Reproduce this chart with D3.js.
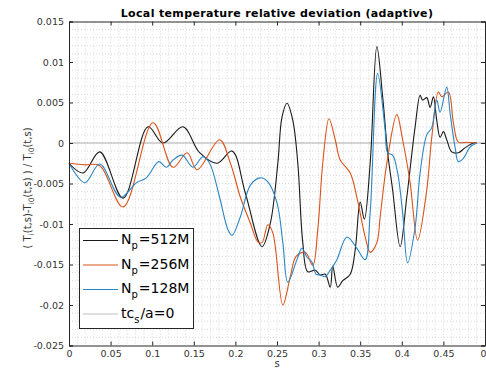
<!DOCTYPE html>
<html>
<head>
<meta charset="utf-8">
<script src="https://cdn.jsdelivr.net/npm/d3@7"></script>
<style>
  body { margin: 0; background: #fff; }
  svg { display: block; font-family: 'DejaVu Sans', sans-serif; }
</style>
</head>
<body>
<div id="chart"></div>
<script>
// black, N_p = 512M
const s512 = [0, 0.017, 0.037, 0.065, 0.095, 0.113, 0.137, 0.157, 0.178, 0.196, 0.212, 0.232, 0.242, 0.251, 0.256, 0.262,
  0.269, 0.275, 0.281, 0.287, 0.296, 0.302, 0.308, 0.314, 0.317, 0.323, 0.329, 0.338, 0.344, 0.350, 0.355, 0.362, 0.370,
  0.377, 0.383, 0.389, 0.398, 0.406, 0.416, 0.422, 0.425, 0.430, 0.434, 0.438, 0.442, 0.446, 0.450, 0.454, 0.460, 0.468,
  0.476, 0.486, 0.490];
const v512 = [-0.0025, -0.0037, -0.0011, -0.0068, 0.0020, 0.0000, 0.0020, -0.0012, -0.0025, -0.0010, -0.0062, -0.0128, -0.0099, -0.0025, 0.0032, 0.0049,
  0.0028, -0.0025, -0.0123, -0.0159, -0.0157, -0.0163, -0.0162, -0.0178, -0.0152, -0.0178, -0.0170, -0.0162, -0.0132, -0.0073, -0.0094, -0.0025, 0.0119,
  0.0057, -0.0012, -0.0058, -0.0128, -0.0067, 0.0020, 0.0059, 0.0053, 0.0056, 0.0044, 0.0057, 0.0028, 0.0007, 0.0014, 0.0004, -0.0011, -0.0012,
  -0.0006, 0.0000, 0.0000];

// orange, N_p = 256M
const s256 = [0, 0.019, 0.037, 0.065, 0.101, 0.125, 0.142, 0.154, 0.181, 0.194, 0.206, 0.218, 0.227, 0.232, 0.239, 0.245,
  0.257, 0.266, 0.273, 0.284, 0.293, 0.299, 0.305, 0.3125, 0.320, 0.326, 0.338, 0.346, 0.356, 0.362, 0.370, 0.374, 0.382,
  0.394, 0.401, 0.410, 0.419, 0.430, 0.436, 0.444, 0.448, 0.456, 0.462, 0.468, 0.478, 0.490];
const v256 = [-0.0025, -0.0027, -0.0028, -0.0079, 0.0025, -0.0030, -0.0012, -0.0033, 0.0004, -0.0025, -0.0067, -0.0099, -0.0122, -0.0123, -0.0101, -0.0111,
  -0.0200, -0.0165, -0.0140, -0.0135, -0.0151, -0.0107, -0.0025, 0.0030, 0.0004, -0.0021, -0.0037, -0.0067, -0.0116, -0.0135, -0.0123, -0.0091, -0.0025,
  0.0035, 0.0004, -0.0049, -0.0120, -0.0058, 0.0007, 0.0063, 0.0057, 0.0063, 0.0025, 0.0001, 0.0001, 0.0000];

// blue, N_p = 128M
const s128 = [0, 0.019, 0.037, 0.062, 0.081, 0.093, 0.108, 0.117, 0.125, 0.136, 0.149, 0.161, 0.169, 0.181, 0.191, 0.196,
  0.206, 0.218, 0.230, 0.239, 0.250, 0.257, 0.263, 0.274, 0.280, 0.286, 0.292, 0.297, 0.302, 0.308, 0.314, 0.322, 0.334,
  0.346, 0.356, 0.362, 0.371, 0.380, 0.383, 0.389, 0.395, 0.401, 0.407, 0.416, 0.422, 0.430, 0.436, 0.442, 0.446, 0.454,
  0.458, 0.464, 0.468, 0.474, 0.482, 0.490];
const v128 = [-0.0025, -0.0049, -0.0026, -0.0067, -0.0049, -0.0043, -0.0023, -0.0030, -0.0021, -0.0015, -0.0030, -0.0017, -0.0025, -0.0067, -0.0107, -0.0114,
  -0.0091, -0.0052, -0.0043, -0.0048, -0.0074, -0.0123, -0.0172, -0.0144, -0.0130, -0.0141, -0.0147, -0.0162, -0.0163, -0.0165, -0.0157, -0.0144, -0.0116,
  -0.0130, -0.0144, -0.0086, 0.0086, 0.0016, -0.0012, -0.0015, -0.0037, -0.0086, -0.0148, -0.0104, -0.0037, 0.0010, 0.0019, 0.0053, 0.0038, 0.0069,
  0.0037, -0.0005, -0.0023, -0.0019, -0.0005, 0.0000];

const xTicks = [0, 0.05, 0.1, 0.15, 0.2, 0.25, 0.3, 0.35, 0.4, 0.45, 0.5];
const xTickLabels = ['0', '0.05', '0.1', '0.15', '0.2', '0.25', '0.3', '0.35', '0.4', '0.45', '0'];
const yTicks = [-0.025, -0.02, -0.015, -0.01, -0.005, 0, 0.005, 0.01, 0.015];
const yTickLabels = ['-0.025', '-0.02', '-0.015', '-0.01', '-0.005', '0', '0.005', '0.01', '0.015'];

const series = [
  {name: '512M', s: s512, v: v512, color: '#1a1a1a'},
  {name: '256M', s: s256, v: v256, color: '#D95319'},
  {name: '128M', s: s128, v: v128, color: '#2a86c4'}
];

const W = 486, H = 368;
const margin = {top: 21.5, right: 1, bottom: 22.5, left: 69};
const width = W - margin.left - margin.right;
const height = H - margin.top - margin.bottom;

const x = d3.scaleLinear().domain([0, 0.5]).range([0, width]);
const y = d3.scaleLinear().domain([-0.025, 0.015]).range([height, 0]);

const svg = d3.select('#chart').append('svg')
    .attr('width', W)
    .attr('height', H);

const chart = svg.append('g')
    .attr('transform', `translate(${margin.left},${margin.top})`);

chart.append('rect')
    .attr('width', width)
    .attr('height', height)
    .attr('fill', '#fff');

// minor grid, dotted
const grid = chart.append('g').attr('stroke', '#cfcfcf').attr('stroke-width', 0.8).attr('stroke-dasharray', '1,2');
grid.selectAll('.gx')
    .data(d3.range(1, 50).map(i => i / 100))
    .enter().append('line')
    .attr('x1', d => x(d)).attr('x2', d => x(d))
    .attr('y1', 0).attr('y2', height);
grid.selectAll('.gy')
    .data(d3.range(-24, 15).map(i => i / 1000))
    .enter().append('line')
    .attr('y1', d => y(d)).attr('y2', d => y(d))
    .attr('x1', 0).attr('x2', width);

// tc_s/a = 0 reference line
chart.append('line')
    .attr('x1', 0).attr('x2', width)
    .attr('y1', y(0)).attr('y2', y(0))
    .attr('stroke', '#b0b0b0')
    .attr('stroke-width', 1.2);

const line = d3.line()
    .x(d => x(d[0]))
    .y(d => y(d[1]))
    .curve(d3.curveCatmullRom.alpha(0.5));

chart.selectAll('.series')
    .data(series)
    .enter().append('path')
    .attr('d', d => line(d.s.map((s, i) => [s, d.v[i]])))
    .attr('fill', 'none')
    .attr('stroke', d => d.color)
    .attr('stroke-width', 1.1);

// axes: ticks inside on all four sides
const axisColor = '#262626';
const tickLen = 4;
const axBottom = chart.append('g').attr('transform', `translate(0,${height})`)
    .call(d3.axisBottom(x).tickValues(xTicks).tickSize(-tickLen).tickPadding(6)
        .tickFormat((d, i) => xTickLabels[i]));
const axTop = chart.append('g')
    .call(d3.axisTop(x).tickValues(xTicks).tickSize(-tickLen).tickFormat(''));
const axLeft = chart.append('g')
    .call(d3.axisLeft(y).tickValues(yTicks).tickSize(-tickLen).tickPadding(5)
        .tickFormat((d, i) => yTickLabels[i]));
const axRight = chart.append('g').attr('transform', `translate(${width},0)`)
    .call(d3.axisRight(y).tickValues(yTicks).tickSize(-tickLen).tickFormat(''));

[axBottom, axTop, axLeft, axRight].forEach(a => {
  a.select('.domain').attr('stroke', axisColor);
  a.selectAll('.tick line').attr('stroke', axisColor);
  a.selectAll('.tick text').attr('fill', '#333').attr('font-size', '9.5px')
      .attr('font-family', 'DejaVu Sans');
});
axBottom.selectAll('.tick text').attr('dy', '0.6em');
// last label sits on the window edge, keep it inside
axBottom.selectAll('.tick text').filter((d, i) => i === xTicks.length - 1)
    .attr('text-anchor', 'end').attr('dx', 1);

// title
svg.append('text')
    .attr('x', margin.left + width / 2)
    .attr('y', 17)
    .attr('text-anchor', 'middle')
    .attr('font-size', '11px')
    .attr('font-weight', 'bold')
    .attr('letter-spacing', '0.35px')
    .attr('fill', '#000')
    .text('Local temperature relative deviation (adaptive)');

// x label
svg.append('text')
    .attr('x', margin.left + width / 2)
    .attr('y', 367)
    .attr('text-anchor', 'middle')
    .attr('font-size', '10px')
    .attr('fill', '#333')
    .text('s');

// y label with subscripts
const yl = svg.append('text')
    .attr('transform', 'translate(31,188) rotate(-90)')
    .attr('text-anchor', 'middle')
    .attr('font-size', '10px')
    .attr('fill', '#333');
const ylParts = [['( T', 0], ['i', 1], ['(t,s)-T', 0], ['i0', 1], ['(t,s) ) / T', 0], ['i0', 1], ['(t,s)', 0]];
let prevSub = 0;
ylParts.forEach(p => {
  const shift = (p[1] - prevSub) * 3;
  yl.append('tspan')
      .attr('dy', shift)
      .attr('font-size', p[1] ? '7.5px' : '10px')
      .text(p[0]);
  prevSub = p[1];
});

// legend
const legendItems = [
  {main: 'N', sub: 'p', rest: '=512M', color: series[0].color},
  {main: 'N', sub: 'p', rest: '=256M', color: series[1].color},
  {main: 'N', sub: 'p', rest: '=128M', color: series[2].color},
  {main: 'tc', sub: 's', rest: '/a=0', color: '#c0c0c0'}
];
svg.append('rect')
    .attr('x', 79.5).attr('y', 228.5)
    .attr('width', 114).attr('height', 100)
    .attr('fill', '#fff')
    .attr('stroke', axisColor)
    .attr('stroke-width', 1);

const legend = svg.selectAll('.legend')
    .data(legendItems)
    .enter().append('g')
    .attr('transform', (d, i) => `translate(0,${244 + i * 24.5})`);

legend.append('line')
    .attr('x1', 83).attr('x2', 118)
    .attr('y1', -3.5).attr('y2', -3.5)
    .attr('stroke', d => d.color)
    .attr('stroke-width', 1.2);

const lt = legend.append('text')
    .attr('x', 121)
    .attr('font-size', '14px')
    .attr('fill', '#000');
lt.append('tspan').text(d => d.main);
lt.append('tspan').attr('font-size', '10px').attr('dy', 5).text(d => d.sub);
lt.append('tspan').attr('dy', -5).attr('dx', 1).text(d => d.rest);
</script>
</body>
</html>
